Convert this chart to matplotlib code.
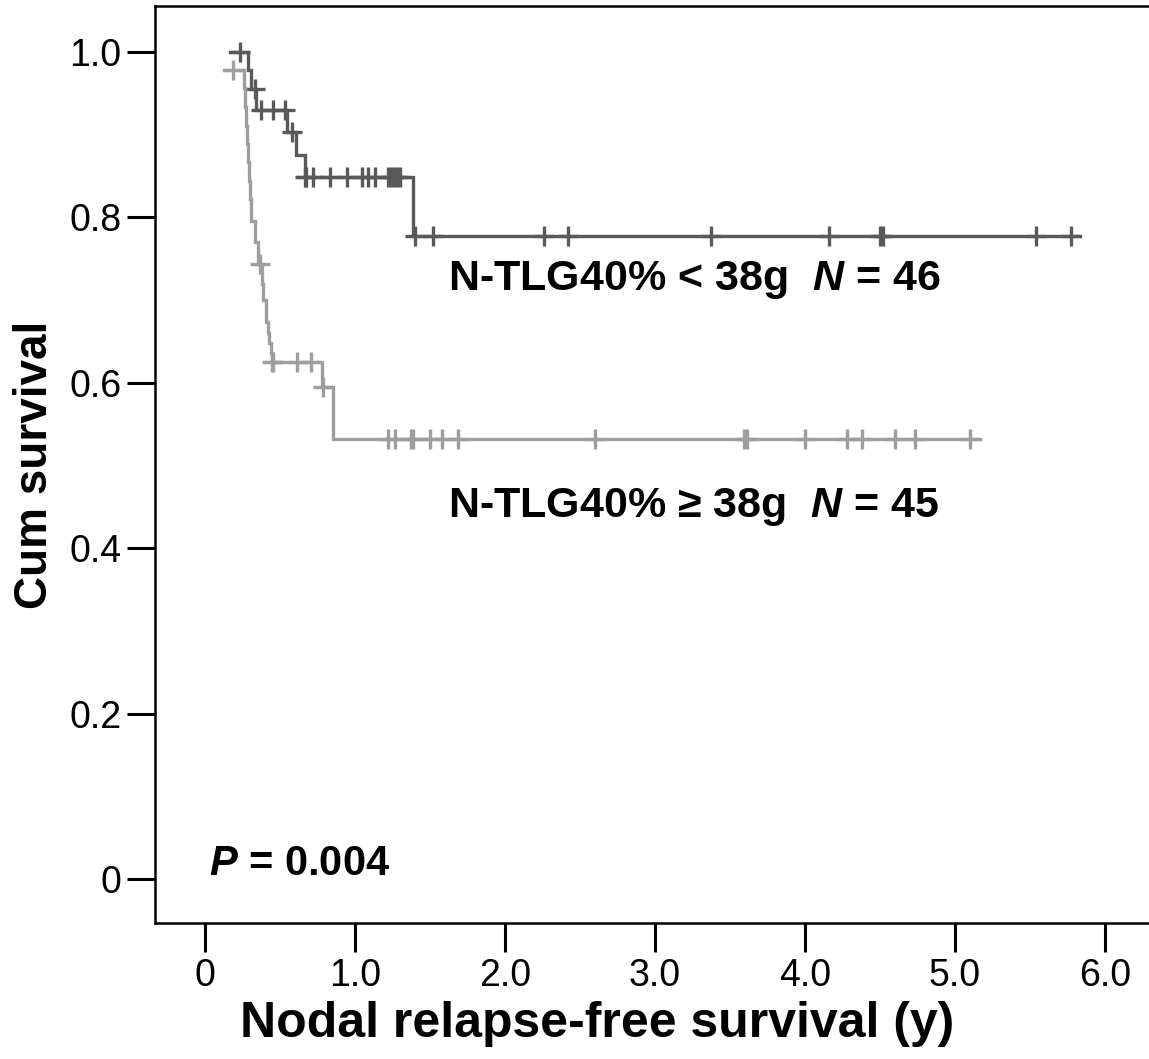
import numpy as np
import matplotlib.pyplot as plt

plt.rcParams['font.family'] = ['Liberation Sans', 'DejaVu Sans']
plt.rcParams['mathtext.fontset'] = 'custom'
plt.rcParams['mathtext.it'] = 'Liberation Sans:italic:bold'
plt.rcParams['mathtext.rm'] = 'Liberation Sans:bold'

# low N-TLG40% group (N = 46), step times and survival after each step
low_start = 0.17
low_times = [0.29, 0.31, 0.34, 0.55, 0.61, 0.665, 1.385]
low_surv = [0.978, 0.955, 0.930, 0.903, 0.875, 0.849, 0.778]
low_cens_t = [0.233, 0.333, 0.375, 0.456, 0.533, 0.58,
              0.67, 0.675, 0.72, 0.833, 0.947, 1.047, 1.087, 1.133,
              1.22, 1.24, 1.26, 1.28, 1.30,
              1.40, 1.52, 2.26, 2.42, 3.373, 4.162, 4.50, 4.52, 5.54, 5.771]
low_end = 5.833

# high N-TLG40% group (N = 45)
high_start = 0.13
high_start_surv = 0.978
high_times = [0.262, 0.270, 0.276, 0.282, 0.287, 0.292, 0.297, 0.305, 0.333,
              0.356, 0.378, 0.390, 0.405, 0.418, 0.430, 0.438, 0.445, 0.778, 0.856]
high_surv = [0.956, 0.933, 0.911, 0.889, 0.867, 0.844, 0.822, 0.796, 0.770,
             0.744, 0.720, 0.700, 0.674, 0.660, 0.648, 0.636, 0.625, 0.595, 0.532]
high_cens_t = [0.19, 0.367, 0.447, 0.455, 0.611, 0.704, 0.785,
               1.222, 1.267, 1.375, 1.39, 1.50, 1.582, 1.684, 2.60,
               3.59, 3.61, 4.0, 4.278, 4.382, 4.60, 4.733, 5.10]
high_end = 5.167

low_color = '#595959'
high_color = '#9e9e9e'


def step_xy(start, start_surv, times, surv, end):
    xs = [start]
    ys = [start_surv]
    cur = start_surv
    for t, s in zip(times, surv):
        xs += [t, t]
        ys += [cur, s]
        cur = s
    xs.append(end)
    ys.append(cur)
    return xs, ys


def surv_at(t, start_surv, times, surv):
    cur = start_surv
    for tt, s in zip(times, surv):
        if t >= tt:
            cur = s
    return cur


fig = plt.figure(figsize=(11.49, 10.59), dpi=100)
ax = fig.add_axes([155 / 1149, 136 / 1059, 994 / 1149, 917 / 1059])

x, y = step_xy(low_start, 1.0, low_times, low_surv, low_end)
ax.plot(x, y, color=low_color, lw=2.4, solid_joinstyle='miter')
cy = [surv_at(t, 1.0, low_times, low_surv) for t in low_cens_t]
ax.plot(low_cens_t, cy, '+', color=low_color, ms=14, mew=2.4)

x, y = step_xy(high_start, high_start_surv, high_times, high_surv, high_end)
ax.plot(x, y, color=high_color, lw=2.4, solid_joinstyle='miter')
cy = [surv_at(t, high_start_surv, high_times, high_surv) for t in high_cens_t]
ax.plot(high_cens_t, cy, '+', color=high_color, ms=14, mew=2.4)

ax.set_xlim(-0.333, 6.293)
ax.set_ylim(-0.053, 1.0556)

ax.set_xticks([0, 1, 2, 3, 4, 5, 6])
ax.set_xticklabels(['0', '1.0', '2.0', '3.0', '4.0', '5.0', '6.0'])
ax.set_yticks([0, 0.2, 0.4, 0.6, 0.8, 1.0])
ax.set_yticklabels(['0', '0.2', '0.4', '0.6', '0.8', '1.0'])
ax.tick_params(axis='both', direction='out', length=20, width=2.2, labelsize=27, pad=4)
ax.tick_params(axis='x', length=21, pad=4)

for side in ['left', 'top', 'bottom']:
    ax.spines[side].set_linewidth(1.8)
ax.spines['right'].set_visible(False)

ax.set_xlabel('Nodal relapse-free survival (y)', fontsize=36, fontweight='bold')
ax.xaxis.set_label_coords((597 - 155) / 994, -0.085)
ax.set_ylabel('Cum survival', fontsize=33, fontweight='bold')
ax.yaxis.set_label_coords(-(155 - 57) / 994, 0.5)

ax.text(1.62, 0.712, r'N-TLG40% < 38g  $\mathit{N}$ = 46', fontsize=31, fontweight='bold')
ax.text(1.62, 0.438, 'N-TLG40% \u2265 38g  $\\mathit{N}$ = 45', fontsize=31, fontweight='bold')
ax.text(0.03, 0.005, r'$\mathit{P}$ = 0.004', fontsize=30, fontweight='bold')

fig.savefig('out.png', dpi=100)
